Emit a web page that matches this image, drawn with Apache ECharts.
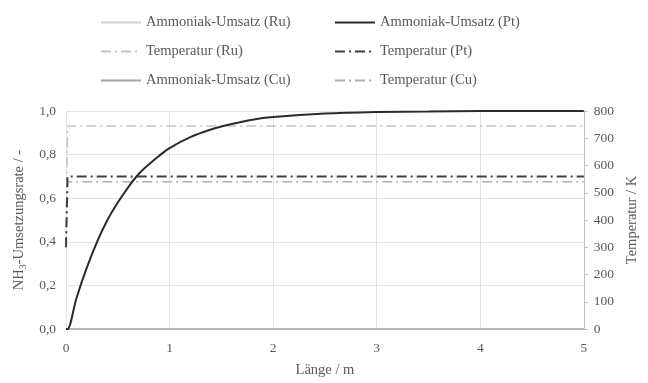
<!DOCTYPE html>
<html><head><meta charset="utf-8">
<script src="https://cdn.jsdelivr.net/npm/echarts@6/dist/echarts.min.js"></script>
<style>html,body{margin:0;padding:0;background:#fff}#c{width:648px;height:383px}</style>
</head><body><div id="c"></div>
<script>
// Data
const xTicks = [0, 1, 2, 3, 4, 5];
const yLeftTicks = [0, 0.2, 0.4, 0.6, 0.8, 1.0];
const yRightTicks = [0, 100, 200, 300, 400, 500, 600, 700, 800];

const ptLength = [0, 0.015, 0.1, 0.2, 0.3, 0.4, 0.5, 0.6, 0.7, 0.8, 0.9, 1.0, 1.2, 1.4, 1.6, 1.8, 2.0, 2.5, 3.0, 3.5, 4.0, 5.0];
const ptConversion = [0, 0, 0.14, 0.28, 0.40, 0.50, 0.58, 0.65, 0.71, 0.755, 0.795, 0.83, 0.88, 0.915, 0.94, 0.96, 0.972, 0.988, 0.995, 0.998, 1.0, 1.0];

const ruLength = [0, 5];
const ruConversion = [0, 0];
const cuLength = [0, 5];
const cuConversion = [0, 0];

const tempLength = [0, 0.015, 5];
const tempRu = [300, 745, 745];
const tempPt = [300, 560, 560];
const tempCu = [300, 540, 540];

const zip = (a, b) => a.map((v, i) => [v, b[i]]);
const FONT = 'Liberation Serif';
const TXT = '#595959';

const chart = echarts.init(document.getElementById('c'), null, {renderer: 'canvas'});
const dashDot = [10, 4, 2, 4];
const legendCommon = {orient: 'vertical', top: 10, itemWidth: 40, itemHeight: 14, itemGap: 14,
  itemStyle: {opacity: 0},
  textStyle: {color: TXT, fontSize: 14.5, fontFamily: FONT}};
chart.setOption({
  animation: false,
  textStyle: {fontFamily: FONT},
  grid: {left: 66, right: 62, top: 111, bottom: 52},
  legend: [
    Object.assign({left: 95, data: ['Ammoniak-Umsatz (Ru)', 'Temperatur (Ru)', 'Ammoniak-Umsatz (Cu)']}, legendCommon),
    Object.assign({left: 329, data: ['Ammoniak-Umsatz (Pt)', 'Temperatur (Pt)', 'Temperatur (Cu)']}, legendCommon)
  ],
  xAxis: {
    type: 'value', min: xTicks[0], max: xTicks[xTicks.length - 1], interval: 1,
    name: 'Länge / m', nameLocation: 'middle', nameGap: 34,
    nameTextStyle: {color: TXT, fontSize: 14.5, fontFamily: FONT},
    axisLine: {lineStyle: {color: '#bfbfbf', width: 1}},
    axisTick: {show: false},
    axisLabel: {color: TXT, fontSize: 13.5, fontFamily: FONT, margin: 12},
    splitLine: {show: true, lineStyle: {color: '#e3e3e3', width: 1}}
  },
  yAxis: [
    {type: 'value', min: yLeftTicks[0], max: yLeftTicks[yLeftTicks.length - 1], interval: 0.2,
     name: '{a|NH}{s|3}{a|-Umsetzungsrate / -}', nameLocation: 'middle', nameGap: 37, nameRotate: 90,
     nameTextStyle: {rich: {a: {color: TXT, fontSize: 14.5, fontFamily: FONT}, s: {color: TXT, fontSize: 10, fontFamily: FONT, verticalAlign: 'bottom', padding: [8, 0, 0, 0]}}},
     axisLine: {show: false}, axisTick: {show: false},
     axisLabel: {color: TXT, fontSize: 13.5, fontFamily: FONT, margin: 10,
       formatter: v => v.toFixed(1).replace('.', ',')},
     splitLine: {show: true, lineStyle: {color: '#e3e3e3', width: 1}}},
    {type: 'value', min: yRightTicks[0], max: yRightTicks[yRightTicks.length - 1], interval: 100,
     name: 'Temperatur / K', nameLocation: 'middle', nameGap: 31, nameRotate: 90,
     nameTextStyle: {color: TXT, fontSize: 14.5, fontFamily: FONT},
     axisLine: {show: true, lineStyle: {color: '#bfbfbf', width: 1}},
     axisTick: {show: true, length: 4, lineStyle: {color: '#bfbfbf'}},
     axisLabel: {color: TXT, fontSize: 13.5, fontFamily: FONT, margin: 10},
     splitLine: {show: false}}
  ],
  series: [
    {name: 'Ammoniak-Umsatz (Ru)', type: 'line', yAxisIndex: 0, symbol: 'none', data: zip(ruLength, ruConversion),
     lineStyle: {color: '#d0d0d0', width: 1.5}, itemStyle: {color: '#d0d0d0'}},
    {name: 'Ammoniak-Umsatz (Cu)', type: 'line', yAxisIndex: 0, symbol: 'none', data: zip(cuLength, cuConversion),
     lineStyle: {color: '#a6a6a6', width: 1.5}, itemStyle: {color: '#a6a6a6'}},
    {name: 'Temperatur (Ru)', type: 'line', yAxisIndex: 1, symbol: 'none', data: zip(tempLength, tempRu),
     lineStyle: {color: '#c4c4c4', width: 1.5, type: dashDot}, itemStyle: {color: '#c4c4c4'}},
    {name: 'Temperatur (Cu)', type: 'line', yAxisIndex: 1, symbol: 'none', data: zip(tempLength, tempCu),
     lineStyle: {color: '#b0b0b0', width: 1.5, type: dashDot}, itemStyle: {color: '#b0b0b0'}},
    {name: 'Temperatur (Pt)', type: 'line', yAxisIndex: 1, symbol: 'none', data: zip(tempLength, tempPt),
     lineStyle: {color: '#404040', width: 2, type: dashDot}, itemStyle: {color: '#404040'}},
    {name: 'Ammoniak-Umsatz (Pt)', type: 'line', yAxisIndex: 0, symbol: 'none', smooth: 0.3, data: zip(ptLength, ptConversion),
     lineStyle: {color: '#2b2b2b', width: 2}, itemStyle: {color: '#2b2b2b'}}
  ]
});
</script></body></html>
